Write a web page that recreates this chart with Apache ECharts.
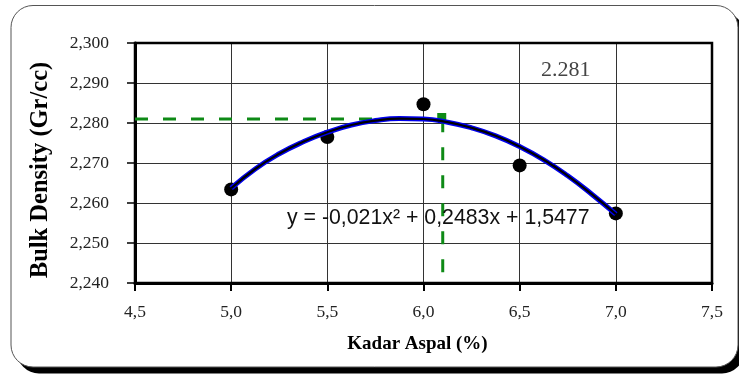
<!DOCTYPE html>
<html>
<head>
<meta charset="utf-8">
<script src="https://cdn.jsdelivr.net/npm/echarts@6/dist/echarts.min.js"></script>
<style>html,body{margin:0;padding:0;background:#fff}#c{width:739px;height:374px}</style>
</head>
<body>
<div id="c"></div>
<script>
// Measured points
const kadarAspal = [5.0, 5.5, 6.0, 6.5, 7.0];
const bulkDensity = [2.2634, 2.2765, 2.2847, 2.2694, 2.2574];
// Trend curve
const trendX = [5.0, 5.125, 5.25, 5.375, 5.5, 5.625, 5.75, 5.875, 6.0, 6.125, 6.25, 6.375, 6.5, 6.625, 6.75, 6.875, 7.0];
const trendY = [2.2637, 2.2685, 2.2723, 2.2753, 2.2777, 2.2795, 2.2806, 2.2811, 2.2810, 2.2802, 2.2788, 2.2768, 2.2741, 2.2708, 2.2668, 2.2622, 2.2572];
// Guide (optimum) lines
const guideX = [4.5, 6.1, 6.1];
const guideY = [2.281, 2.281, 2.240];
// Tick labels
const xTickLabels = ['4,5', '5,0', '5,5', '6,0', '6,5', '7,0', '7,5'];
const yTickLabels = ['2,240', '2,250', '2,260', '2,270', '2,280', '2,290', '2,300'];
const optimumLabel = '2.281';
const equationLabel = 'y = -0,021x\u00B2 + 0,2483x + 1,5477';
const xName = 'Kadar Aspal (%)';
const yName = 'Bulk Density (Gr/cc)';

const chart = echarts.init(document.getElementById('c'), null, {renderer: 'canvas'});
const serif = 'Liberation Serif';
const option = {
  animation: false,
  backgroundColor: '#fff',
  grid: {left: 135, top: 43, right: 27, bottom: 91, show: true, borderColor: '#000', borderWidth: 2.5, backgroundColor: 'transparent', z: 3},
  xAxis: {
    type: 'value', min: 4.5, max: 7.5, interval: 0.5,
    name: xName, nameLocation: 'middle', nameGap: 52,
    nameTextStyle: {fontFamily: serif, fontWeight: 'bold', fontSize: 19, color: '#000', padding: [0, 12, 0, 0]},
    axisLine: {show: true, lineStyle: {color: '#000', width: 3}},
    axisTick: {show: true, inside: false, length: 8, lineStyle: {color: '#000', width: 2}},
    axisLabel: {margin: 20, fontFamily: serif, fontSize: 17.5, color: '#222',
      formatter: v => xTickLabels[Math.round((v - 4.5) / 0.5)]},
    splitLine: {show: true, lineStyle: {color: '#333', width: 1}}
  },
  yAxis: {
    type: 'value', min: 2.24, max: 2.30, interval: 0.01,
    axisLine: {show: true, lineStyle: {color: '#000', width: 3}},
    axisTick: {show: true, inside: false, length: 8, lineStyle: {color: '#000', width: 1.5}},
    axisLabel: {margin: 26, fontFamily: serif, fontSize: 17.5, color: '#222',
      formatter: v => yTickLabels[Math.round((v - 2.24) / 0.01)]},
    splitLine: {show: true, lineStyle: {color: '#333', width: 1}}
  },
  graphic: [
    {type: 'rect', z: -10, silent: true, shape: {x: 17, y: 12, width: 727, height: 361.5, r: 22}, style: {fill: '#000'}},
    {type: 'rect', z: -9, silent: true, shape: {x: 11, y: 5.5, width: 727, height: 361.5, r: 22}, style: {fill: '#fff', stroke: '#555', lineWidth: 1}},
    {type: 'text', z: 100, x: 41, y: 170, rotation: Math.PI / 2, silent: true,
      style: {text: yName, font: 'bold 24.5px "Liberation Serif"', fill: '#000', align: 'center', verticalAlign: 'middle'}},
    {type: 'text', z: 100, left: 541, top: 59, style: {text: optimumLabel, font: '22px "Liberation Serif"', fill: '#444'}},
    {type: 'text', z: 100, left: 287, top: 208, style: {text: equationLabel, font: '21.3px "Liberation Sans"', fill: '#111'}}
  ],
  series: [
    {
      type: 'line', data: guideX.map((x, i) => [x, guideY[i]]), z: 4,
      lineStyle: {color: '#0e8a16', width: 3, type: [13, 15]},
      symbol: (v, p) => p.dataIndex === 1 ? 'rect' : 'none',
      symbolSize: [9, 8], symbolOffset: [-1, -2],
      itemStyle: {color: '#0e8a16'}, showSymbol: true
    },
    {
      type: 'scatter', data: kadarAspal.map((x, i) => [x, bulkDensity[i]]), z: 5,
      symbol: 'circle', symbolSize: 14, itemStyle: {color: '#000', opacity: 1}
    },
    {
      type: 'line', data: trendX.map((x, i) => [x, trendY[i]]), z: 6, smooth: true,
      symbol: 'none', lineStyle: {color: '#0000ee', width: 5}
    },
    {
      type: 'line', data: trendX.map((x, i) => [x, trendY[i]]), z: 7, smooth: true,
      symbol: 'none', lineStyle: {color: '#000', width: 2.2}
    }
  ]
};
chart.setOption(option);
</script>
</body>
</html>
